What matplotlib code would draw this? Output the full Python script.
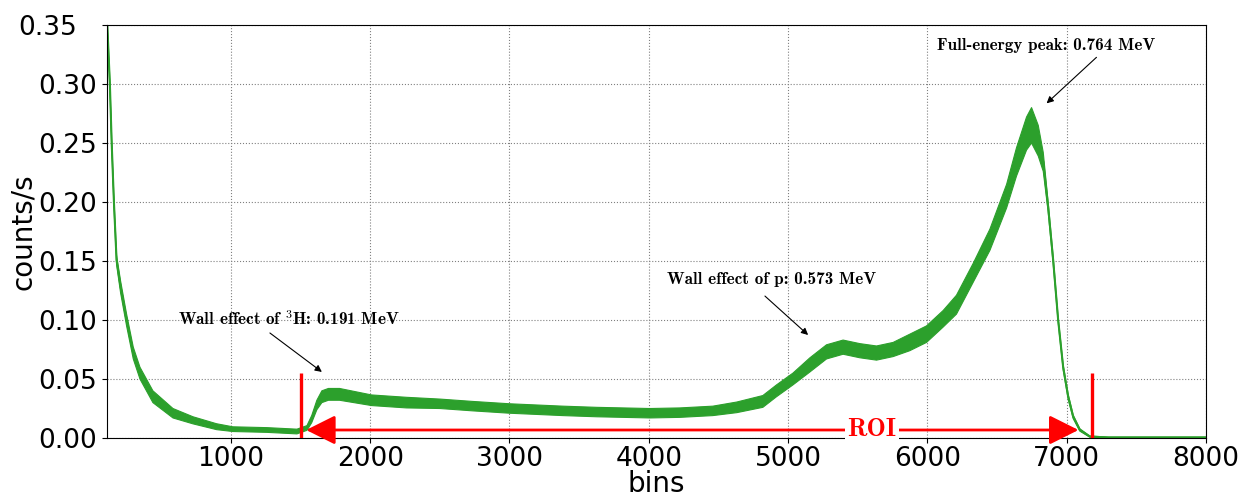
import numpy as np
import matplotlib
matplotlib.use('Agg')
import matplotlib.pyplot as plt
from matplotlib.transforms import ScaledTranslation

plt.rcParams['mathtext.fontset'] = 'cm'

# spectrum: bin, band centre (counts/s), band half-width
bins = [100, 112, 131, 144, 160, 179, 208, 251, 299, 347, 440, 584, 728, 897,
        1014, 1258, 1474, 1546, 1580, 1617, 1653, 1700, 1780, 2010, 2261, 2500,
        2737, 3003, 3194, 3383, 3627, 4008, 4223, 4460, 4632, 4819, 4917, 5035,
        5157, 5276, 5395, 5515, 5635, 5754, 5874, 5994, 6113, 6209, 6329, 6449,
        6569, 6640, 6712, 6748, 6796, 6832, 6867, 6903, 6939, 6975, 7011, 7047,
        7095, 7167, 7300, 8000]
counts = [0.420, 0.351, 0.300, 0.250, 0.200, 0.151, 0.128, 0.100, 0.072, 0.055,
          0.035, 0.021, 0.015, 0.0096, 0.0075, 0.0068, 0.0055, 0.0085, 0.016,
          0.028, 0.035, 0.037, 0.037, 0.032, 0.030, 0.029, 0.027, 0.025, 0.024,
          0.023, 0.022, 0.021, 0.0215, 0.023, 0.026, 0.031, 0.040, 0.050, 0.062,
          0.073, 0.077, 0.074, 0.072, 0.075, 0.081, 0.088, 0.101, 0.113, 0.140,
          0.168, 0.205, 0.234, 0.258, 0.265, 0.252, 0.234, 0.196, 0.151, 0.100,
          0.060, 0.035, 0.018, 0.0068, 0.0012, 0.0005, 0.0005]
spread = [0.003, 0.003, 0.003, 0.003, 0.003, 0.004, 0.005, 0.005, 0.005, 0.005,
          0.005, 0.004, 0.003, 0.0025, 0.002, 0.002, 0.002, 0.002, 0.003, 0.004,
          0.005, 0.005, 0.005, 0.0045, 0.0045, 0.004, 0.004, 0.004, 0.004,
          0.004, 0.004, 0.004, 0.004, 0.004, 0.0045, 0.005, 0.005, 0.005, 0.006,
          0.006, 0.006, 0.006, 0.006, 0.006, 0.007, 0.007, 0.007, 0.008, 0.008,
          0.009, 0.010, 0.012, 0.014, 0.015, 0.013, 0.008, 0.004, 0.003, 0.002,
          0.002, 0.002, 0.0015, 0.001, 0.0005, 0.0003, 0.0003]

roi = [1500, 7180]

x = np.array(bins)
y = np.array(counts)
s = np.array(spread)

fig = plt.figure(figsize=(12.48, 4.96), dpi=100)
ax = fig.add_axes([0.0857, 0.1169, 0.8806, 0.8327])

green = '#2ca02c'
ax.fill_between(x, y - s, y + s, color=green, lw=0.8, zorder=2)
ax.plot(x, y, color=green, lw=1.5, zorder=2)

# ROI markers
ax.vlines(roi, 0, 0.055, color='red', lw=2.4, zorder=4)
ax.annotate('', xy=(1540, 0.0068), xytext=(7085, 0.0068),
            arrowprops=dict(arrowstyle='<|-|>,head_length=0.9,head_width=0.45',
                            color='red', lw=2, mutation_scale=20,
                            shrinkA=0, shrinkB=0), zorder=4)
ax.text(5600, 0.0068, 'ROI', color='red', fontsize=18.5, family='cmb10',
        ha='center', va='center', zorder=5,
        bbox=dict(boxstyle='square,pad=0.1', fc='white', ec='none'))

# annotations
notes = [
    (r'Wall effect of $^{\mathbf{3}}$H: 0.191 MeV', (1416, 0.1015), (1280, 0.089), (1653, 0.056)),
    ('Wall effect of p: 0.573 MeV', (4884, 0.134), (4834, 0.1203), (5144, 0.0873)),
    ('Full-energy peak: 0.764 MeV', (6851, 0.333), (7214, 0.3226), (6856, 0.2836)),
]
for txt, pos, tail, tip in notes:
    ax.text(pos[0], pos[1], txt, family='cmb10', fontsize=12.3,
            ha='center', va='center', zorder=5)
    ax.annotate('', xy=tip, xytext=tail,
                arrowprops=dict(arrowstyle='-|>', color='black', lw=0.8,
                                mutation_scale=10, shrinkA=0, shrinkB=0))

ax.set_xlim(110, 8000)
ax.set_ylim(0, 0.35)
ax.set_xticks(range(1000, 8001, 1000))
ax.set_yticks(np.arange(0, 0.351, 0.05))
ax.yaxis.set_major_formatter(matplotlib.ticker.FormatStrFormatter('%.2f'))
ax.tick_params(labelsize=19)
ax.tick_params(axis='x', pad=2)
ax.grid(True, ls=':', color='gray', lw=0.8)
ax.set_axisbelow(True)
ax.set_xlabel('bins', fontsize=20, labelpad=-1)
ax.set_ylabel('counts/s', fontsize=20)
ax.yaxis.set_label_coords(-0.064, 0.5)

# top y label sits further left in the reference
fig.canvas.draw()
top = ax.get_yticklabels()[-1]
top.set_transform(top.get_transform() + ScaledTranslation(-0.2, 0, fig.dpi_scale_trans))

fig.savefig('out.png', dpi=100)
